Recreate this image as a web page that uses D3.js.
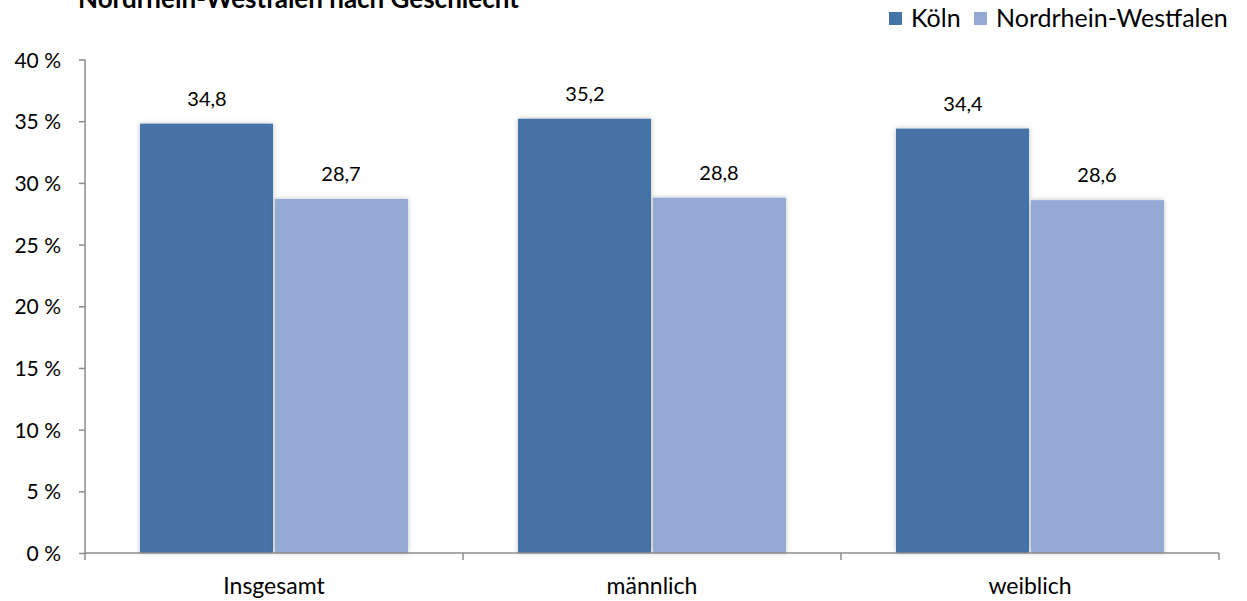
<!DOCTYPE html>
<html>
<head>
<meta charset="utf-8">
<script src="https://cdn.jsdelivr.net/npm/d3@7"></script>
<style>
  body { margin: 0; background: #fff; }
  text { font-family: Lato, "Open Sans", sans-serif; fill: #000; }
</style>
</head>
<body>
<div id="chart"></div>
<script>
// Chart data
var categories = ["Insgesamt", "männlich", "weiblich"];
var seriesNames = ["Köln", "Nordrhein-Westfalen"];
var koelnValues = [34.8, 35.2, 34.4];
var nrwValues = [28.7, 28.8, 28.6];
var yTicks = [0, 5, 10, 15, 20, 25, 30, 35, 40];

var colors = ["#4572a7", "#95aad2"];

// SVG area
var svgWidth = 1247;
var svgHeight = 601;

var margin = { top: 59.5, right: 28, bottom: 48, left: 85 };
var chartWidth = svgWidth - margin.left - margin.right;
var chartHeight = svgHeight - margin.top - margin.bottom;

var svg = d3.select("#chart")
  .append("svg")
  .attr("width", svgWidth)
  .attr("height", svgHeight);

// soft shadow behind bars
var defs = svg.append("defs");
var filter = defs.append("filter")
  .attr("id", "shadow")
  .attr("x", "-10%").attr("y", "-10%")
  .attr("width", "120%").attr("height", "120%");
filter.append("feDropShadow")
  .attr("dx", 0).attr("dy", 0)
  .attr("stdDeviation", 2.5)
  .attr("flood-color", "#000")
  .attr("flood-opacity", 0.25);

// Title (cut off at top in the original)
svg.append("text")
  .attr("x", 78)
  .attr("y", 8)
  .style("font-size", "26px")
  .style("font-weight", "bold")
  .text("Nordrhein-Westfalen nach Geschlecht");

var chartGroup = svg.append("g")
  .attr("transform", `translate(${margin.left}, ${margin.top})`);

var xScale = d3.scaleBand()
  .domain(categories)
  .range([0, chartWidth])
  .paddingInner(0)
  .paddingOuter(0);

var xSub = d3.scaleBand()
  .domain(seriesNames)
  .range([55, xScale.bandwidth() - 55]);

var yScale = d3.scaleLinear()
  .domain([0, 40])
  .range([chartHeight, 0]);

var data = categories.map(function(c, i) {
  return { cat: c, values: [koelnValues[i], nrwValues[i]] };
});

// Bars
var groups = chartGroup.selectAll(".group")
  .data(data)
  .enter()
  .append("g")
  .attr("class", "group")
  .attr("transform", d => `translate(${xScale(d.cat)}, 0)`);

groups.selectAll("rect")
  .data(d => d.values.map((v, j) => ({ name: seriesNames[j], value: v, idx: j })))
  .enter()
  .append("rect")
  .attr("x", d => xSub(d.name) + (d.idx === 1 ? 1 : 0))
  .attr("y", d => yScale(d.value))
  .attr("width", d => xSub.bandwidth() - 1)
  .attr("height", d => chartHeight - yScale(d.value))
  .attr("fill", d => colors[d.idx])
  .attr("filter", "url(#shadow)");

// Value labels
groups.selectAll(".val")
  .data(d => d.values.map((v, j) => ({ name: seriesNames[j], value: v })))
  .enter()
  .append("text")
  .attr("class", "val")
  .attr("x", d => xSub(d.name) + xSub.bandwidth() / 2)
  .attr("y", d => yScale(d.value) - 18)
  .attr("text-anchor", "middle")
  .style("font-size", "20px")
  .text(d => d3.format(".1f")(d.value).replace(".", ","));

// Axes
var leftAxis = d3.axisLeft(yScale)
  .tickValues(yTicks)
  .tickSize(6)
  .tickFormat(d => d + " %");

var yAxisG = chartGroup.append("g").call(leftAxis);
yAxisG.select(".domain").attr("stroke", "#8c8c8c").attr("stroke-width", 1.5)
  .attr("d", `M0,${chartHeight}V0`);
yAxisG.selectAll(".tick line").attr("stroke", "#8c8c8c").attr("stroke-width", 1.5);
yAxisG.selectAll(".tick text")
  .attr("x", -24)
  .attr("dy", "0.36em")
  .style("font-size", "21px")
  .style("font-family", "Lato, sans-serif");

var xAxisG = chartGroup.append("g")
  .attr("transform", `translate(0, ${chartHeight})`);
xAxisG.append("line")
  .attr("x1", 0).attr("x2", chartWidth)
  .attr("y1", 0).attr("y2", 0)
  .attr("stroke", "#8c8c8c").attr("stroke-width", 1.5);
xAxisG.selectAll(".xtick")
  .data([0].concat(categories.map(c => xScale(c) + xScale.bandwidth())))
  .enter()
  .append("line")
  .attr("x1", d => d).attr("x2", d => d)
  .attr("y1", 0).attr("y2", 7)
  .attr("stroke", "#8c8c8c").attr("stroke-width", 1.5);
xAxisG.selectAll(".xlabel")
  .data(categories)
  .enter()
  .append("text")
  .attr("x", d => xScale(d) + xScale.bandwidth() / 2)
  .attr("y", 41)
  .attr("text-anchor", "middle")
  .style("font-size", "23px")
  .text(d => d);

// Legend
var legendItems = [
  { name: seriesNames[0], color: colors[0], x: 889 },
  { name: seriesNames[1], color: colors[1], x: 974 }
];
var legend = svg.selectAll(".legend")
  .data(legendItems)
  .enter()
  .append("g")
  .attr("class", "legend")
  .attr("transform", d => `translate(${d.x}, 12)`);
legend.append("rect")
  .attr("width", 13).attr("height", 13)
  .attr("fill", d => d.color);
legend.append("text")
  .attr("x", 22)
  .attr("y", 15)
  .style("font-size", "25px")
  .text(d => d.name);
</script>
</body>
</html>
